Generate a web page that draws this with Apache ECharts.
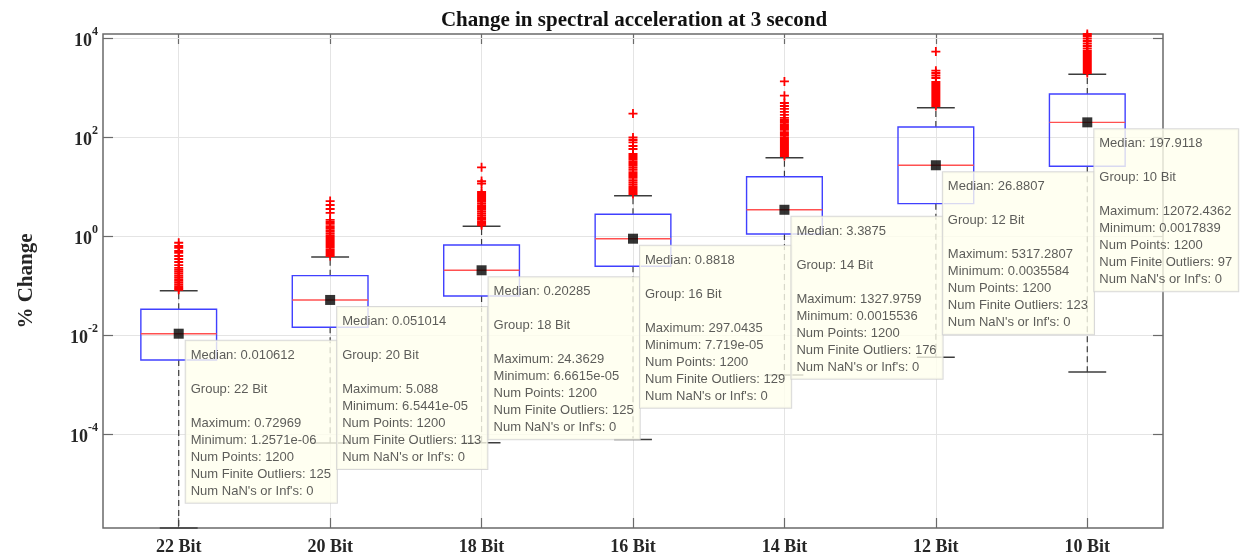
<!DOCTYPE html>
<html>
<head>
<meta charset="utf-8">
<script src="https://cdn.jsdelivr.net/npm/echarts@6/dist/echarts.min.js"></script>
<style>
html,body{margin:0;padding:0;background:#fff;}
#chart{width:1248px;height:558px;}
</style>
</head>
<body>
<div id="chart"></div>
<script>
// ---------------- data ----------------
const categories = ['22 Bit', '20 Bit', '18 Bit', '16 Bit', '14 Bit', '12 Bit', '10 Bit'];
const lowerWhisker = [1.2571e-06, 6.5441e-05, 6.6615e-05, 7.719e-05, 0.0015536, 0.0035584, 0.0017839];
const q1 = [0.00313, 0.0143, 0.0614, 0.244, 1.1, 4.5, 25.6];
const medians = [0.010612, 0.051014, 0.20285, 0.8818, 3.3875, 26.8807, 197.9118];
const q3 = [0.033, 0.158, 0.658, 2.75, 15.8, 159.5, 740];
const upperWhisker = [0.0785, 0.376, 1.57, 6.53, 38.2, 391, 1850];
const maxima = ['0.72969', '5.088', '24.3629', '297.0435', '1327.9759', '5317.2807', '12072.4362'];
const minima = ['1.2571e-06', '6.5441e-05', '6.6615e-05', '7.719e-05', '0.0015536', '0.0035584', '0.0017839'];
const medianText = ['0.010612', '0.051014', '0.20285', '0.8818', '3.3875', '26.8807', '197.9118'];
const numPoints = [1200, 1200, 1200, 1200, 1200, 1200, 1200];
const finiteOutliers = [125, 113, 125, 129, 176, 123, 97];
const nanInf = [0, 0, 0, 0, 0, 0, 0];

const outliers22 = [0.7297, 0.628, 0.573, 0.498, 0.454, 0.394, 0.343, 0.298, 0.259, 0.226, 0.206, 0.19, 0.175, 0.16, 0.147, 0.135, 0.124, 0.114, 0.105, 0.097, 0.089, 0.082];
const outliers20 = [5.088, 4.23, 3.51, 2.92, 2.11, 1.92, 1.75, 1.59, 1.45, 1.32, 1.21, 1.10, 1.0, 0.912, 0.83, 0.757, 0.689, 0.628, 0.573, 0.521, 0.475, 0.433, 0.394];
const outliers18 = [24.3629, 12.9, 11.5, 7.74, 7.06, 6.43, 5.86, 5.34, 4.87, 4.44, 4.04, 3.68, 3.36, 3.06, 2.79, 2.54, 2.31, 2.11, 1.92, 1.75, 1.65];
const outliers16 = [297.0435, 97.9, 87.1, 77.6, 65.9, 57.3, 45.4, 41.4, 37.7, 34.4, 31.3, 28.5, 26.0, 23.7, 21.6, 19.6, 17.9, 16.3, 14.9, 13.5, 12.3, 11.2, 10.2, 9.33, 8.5, 7.74, 7.06];
const outliers14 = [1327.9759, 684, 487, 424, 369, 321, 279, 243, 221, 201, 183, 167, 152, 139, 126, 115, 105, 95.5, 87.1, 79.4, 72.3, 65.9, 60.0, 54.7, 49.8, 45.4, 41.4];
const outliers12 = [5317.2807, 2189, 1967, 1750, 1559, 1294, 1178, 1074, 978, 891, 812, 740, 674, 614, 560, 510, 465, 424];
const outliers10 = [12072.4362, 11000, 9795, 8716, 7762, 6909, 6150, 5475, 4987, 4546, 4140, 3774, 3438, 3135, 2853, 2600, 2368, 2158, 1967];
const outlierGroups = [outliers22, outliers20, outliers18, outliers16, outliers14, outliers12, outliers10];

const yMin = 1.2571e-06;
const yMax = 12072.4362;
const yTickExponents = [-4, -2, 0, 2, 4];

// ---------------- build ----------------
const boxData = categories.map((c, i) => [i, lowerWhisker[i], q1[i], medians[i], q3[i], upperWhisker[i]]);
const outlierData = [];
outlierGroups.forEach((arr, i) => arr.forEach(v => outlierData.push([i, v])));
const medianData = categories.map((c, i) => [i, medians[i]]);
const yTickData = yTickExponents.map(e => [0, Math.pow(10, e)]);

function tipText(i) {
  return 'Median: ' + medianText[i] + '\n\n' +
    'Group: ' + categories[i] + '\n\n' +
    'Maximum: ' + maxima[i] + '\n' +
    'Minimum: ' + minima[i] + '\n' +
    'Num Points: ' + numPoints[i] + '\n' +
    'Num Finite Outliers: ' + finiteOutliers[i] + '\n' +
    "Num NaN's or Inf's: " + nanInf[i];
}

const serif = '"Liberation Serif", "Times New Roman", serif';
const sans = '"Liberation Sans", Arial, sans-serif';
const axisCol = '#6a6a6a';
const gridCol = '#e4e4e4';

function yLabel(v) {
  const l = Math.log10(v);
  const e = Math.round(l);
  if (Math.abs(l - e) > 1e-6 || yTickExponents.indexOf(e) < 0) return '';
  return '{b|10}{e|' + e + '}';
}

const chart = echarts.init(document.getElementById('chart'), null, {renderer: 'canvas'});
chart.setOption({
  animation: false,
  backgroundColor: '#ffffff',
  title: {
    text: 'Change in spectral acceleration at 3 second',
    left: 629, top: 5, textAlign: 'center',
    textStyle: {fontFamily: serif, fontWeight: 'bold', fontSize: 21, color: '#111'}
  },
  grid: {left: 103, right: 85, top: 34, bottom: 30, show: true, borderColor: axisCol, borderWidth: 1.5, backgroundColor: 'transparent', containLabel: false},
  xAxis: [{
    type: 'category', position: 'bottom', data: categories, boundaryGap: true,
    axisLine: {show: false},
    axisTick: {show: true, inside: true, alignWithLabel: true, length: 10, lineStyle: {color: axisCol, width: 1.2}},
    splitLine: {show: true, alignWithLabel: true, lineStyle: {color: gridCol, width: 1}},
    axisLabel: {margin: 10, fontFamily: serif, fontWeight: 'bold', fontSize: 18, color: '#262626'}
  }, {
    type: 'category', position: 'top', data: categories, boundaryGap: true,
    axisLine: {show: false},
    axisTick: {show: true, inside: true, alignWithLabel: true, length: 10, lineStyle: {color: axisCol, width: 1.2}},
    splitLine: {show: false},
    axisLabel: {show: false}
  }],
  yAxis: [{
    type: 'log', logBase: 10, min: yMin, max: yMax, position: 'left',
    name: '% Change', nameLocation: 'middle', nameGap: 66, nameRotate: 90,
    nameTextStyle: {fontFamily: serif, fontWeight: 'bold', fontSize: 21, color: '#262626'},
    axisLine: {show: false},
    axisTick: {show: false},
    minorTick: {show: false},
    splitLine: {show: false},
    axisLabel: {
      margin: 5, formatter: yLabel, showMinLabel: false, showMaxLabel: false,
      rich: {
        b: {fontFamily: serif, fontWeight: 'bold', fontSize: 18, color: '#262626', lineHeight: 24, verticalAlign: 'bottom'},
        e: {fontFamily: serif, fontWeight: 'bold', fontSize: 12, color: '#262626', lineHeight: 12, verticalAlign: 'top'}
      }
    }
  }, {
    type: 'log', logBase: 10, min: yMin, max: yMax, position: 'right',
    axisLine: {show: false},
    axisTick: {show: false},
    splitLine: {show: false},
    axisLabel: {show: false}
  }],
  series: [{
    type: 'custom',
    name: 'yGrid',
    xAxisIndex: 0, yAxisIndex: 0,
    encode: {x: 0, y: 1},
    data: yTickData,
    z: 1,
    silent: true,
    renderItem: function (params, api) {
      const p = api.coord([0, api.value(1)]);
      const cs = params.coordSys;
      const y = Math.round(p[1]) + 0.5;
      return {
        type: 'group',
        children: [
          {type: 'line', shape: {x1: cs.x, y1: y, x2: cs.x + cs.width, y2: y}, style: {stroke: gridCol, lineWidth: 1}},
          {type: 'line', shape: {x1: cs.x, y1: y, x2: cs.x + 10, y2: y}, style: {stroke: axisCol, lineWidth: 1.2}},
          {type: 'line', shape: {x1: cs.x + cs.width - 10, y1: y, x2: cs.x + cs.width, y2: y}, style: {stroke: axisCol, lineWidth: 1.2}}
        ]
      };
    }
  }, {
    type: 'custom',
    name: 'boxes',
    xAxisIndex: 0, yAxisIndex: 0,
    encode: {x: 0, y: [1, 2, 3, 4, 5]},
    data: boxData,
    z: 2,
    renderItem: function (params, api) {
      const i = api.value(0);
      const lo = api.coord([i, api.value(1)]);
      const b1 = api.coord([i, api.value(2)]);
      const md = api.coord([i, api.value(3)]);
      const b3 = api.coord([i, api.value(4)]);
      const hi = api.coord([i, api.value(5)]);
      const band = api.size([1, 1])[0];
      const x = lo[0];
      const hw = band * 0.25;
      const cw = band * 0.125;
      const whisk = {stroke: '#3c3c3c', lineWidth: 1.2, lineDash: [6, 4]};
      const cap = {stroke: '#3c3c3c', lineWidth: 1.5};
      return {
        type: 'group',
        children: [
          {type: 'line', shape: {x1: x, y1: b3[1], x2: x, y2: hi[1]}, style: whisk},
          {type: 'line', shape: {x1: x, y1: b1[1], x2: x, y2: lo[1]}, style: whisk},
          {type: 'line', shape: {x1: x - cw, y1: hi[1], x2: x + cw, y2: hi[1]}, style: cap},
          {type: 'line', shape: {x1: x - cw, y1: lo[1], x2: x + cw, y2: lo[1]}, style: cap},
          {type: 'rect', shape: {x: x - hw, y: b3[1], width: hw * 2, height: b1[1] - b3[1]}, style: {fill: 'none', stroke: '#4040ff', lineWidth: 1.4}},
          {type: 'line', shape: {x1: x - hw, y1: md[1], x2: x + hw, y2: md[1]}, style: {stroke: '#ff5050', lineWidth: 1.4}}
        ]
      };
    }
  }, {
    type: 'scatter',
    name: 'outliers',
    xAxisIndex: 0, yAxisIndex: 0,
    data: outlierData,
    z: 3,
    symbol: 'path://M3.2,0H4.8V3.2H8V4.8H4.8V8H3.2V4.8H0V3.2H3.2Z',
    symbolSize: 9,
    itemStyle: {color: '#ff0000', opacity: 1}
  }, {
    type: 'scatter',
    name: 'medians',
    xAxisIndex: 0, yAxisIndex: 0,
    data: medianData,
    z: 10,
    symbol: 'rect',
    symbolSize: 10,
    itemStyle: {color: '#000000'},
    label: {
      show: true,
      position: [12, 12],
      align: 'left', verticalAlign: 'top',
      formatter: function (p) { return tipText(p.dataIndex); },
      fontFamily: sans, fontSize: 13, lineHeight: 17, color: '#333333',
      backgroundColor: '#ffffee', borderColor: '#cfcfcf', borderWidth: 1,
      padding: [6, 6, 3, 5]
    }
  }]
});
</script>
</body>
</html>
